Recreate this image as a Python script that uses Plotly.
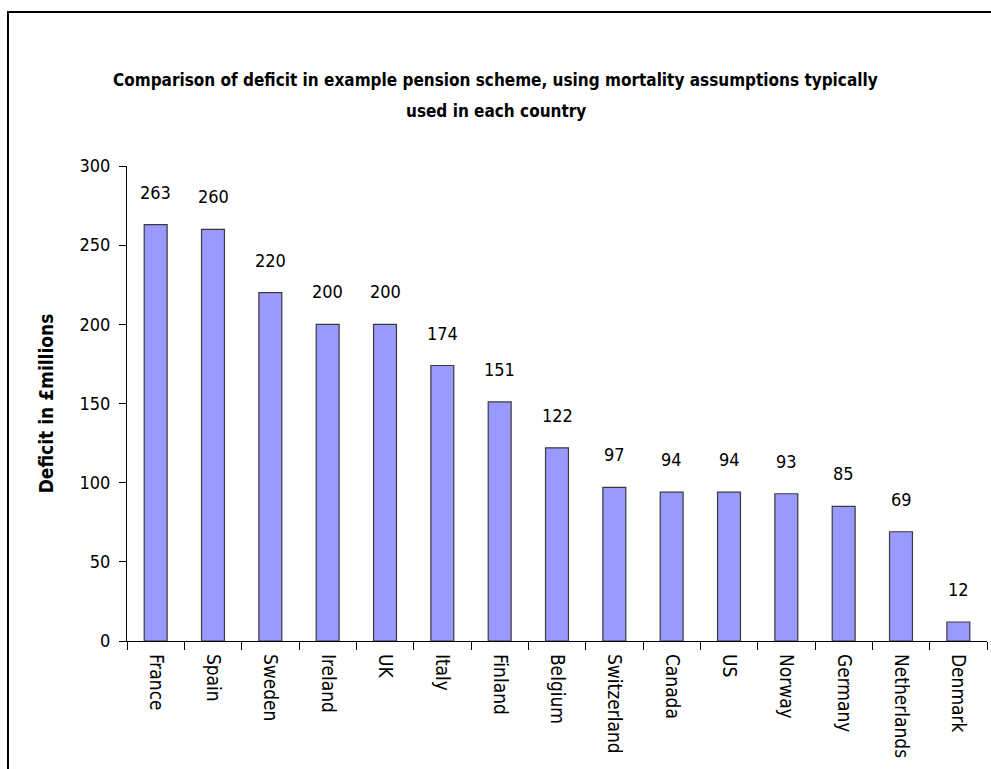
import plotly.graph_objects as go

countries = ["France", "Spain", "Sweden", "Ireland", "UK", "Italy", "Finland",
             "Belgium", "Switzerland", "Canada", "US", "Norway", "Germany",
             "Netherlands", "Denmark"]
deficits = [263, 260, 220, 200, 200, 174, 151, 122, 97, 94, 94, 93, 85, 69, 12]
y_ticks = [0, 50, 100, 150, 200, 250, 300]

title_lines = [
    "Comparison of deficit in example pension scheme, using mortality assumptions typically",
    "used in each country",
]

FONT = "DejaVu Sans Condensed, Liberation Sans Narrow, Arial Narrow, sans-serif"

fig = go.Figure(
    go.Bar(
        x=countries,
        y=deficits,
        marker=dict(color="#9999FF", line=dict(color="#3a3a3a", width=1.2)),
        width=0.4,
        hoverinfo="x+y",
    )
)

# value labels above each bar
for c, v in zip(countries, deficits):
    fig.add_annotation(
        x=c, y=v, text=str(v), showarrow=False, yanchor="bottom", yshift=20,
        font=dict(family=FONT, size=18, color="black"),
    )

# two-line title
for text, yp in zip(title_lines, [1.181, 1.116]):
    fig.add_annotation(
        x=0.429, y=yp, xref="paper", yref="paper", text=f"<b>{text}</b>",
        showarrow=False, xanchor="center", yanchor="middle",
        font=dict(family=FONT, size=17, color="black"),
    )

# chart frame
fig.add_shape(
    type="rect", xref="paper", yref="paper",
    x0=-0.1384, x1=1.05, y0=-0.4, y1=1.3242,
    line=dict(color="black", width=2), fillcolor="rgba(0,0,0,0)", layer="below",
)

fig.update_layout(
    width=991, height=769,
    margin=dict(l=127, r=4, t=166, b=128),
    paper_bgcolor="white", plot_bgcolor="white",
    showlegend=False,
    font=dict(family=FONT, size=18, color="black"),
)

fig.update_xaxes(
    type="category",
    showline=True, linecolor="black", linewidth=1.2,
    ticks="outside", tickson="boundaries", ticklen=8, tickcolor="black", tickwidth=1.2,
    tickangle=90, tickfont=dict(family=FONT, size=19, color="black"),
    ticklabelstandoff=8,
    showgrid=False, zeroline=False,
)

fig.update_yaxes(
    range=[0, 300], tickvals=y_ticks, ticktext=[str(t) for t in y_ticks],
    showline=True, linecolor="black", linewidth=1.2,
    ticks="outside", ticklen=7, tickcolor="black", tickwidth=1.2,
    tickfont=dict(family=FONT, size=18, color="black"),
    ticklabelstandoff=5,
    showgrid=False, zeroline=False,
    title=dict(text="<b>Deficit in £millions</b>", standoff=20,
               font=dict(family=FONT, size=19, color="black")),
)

fig.write_html("out.html")
